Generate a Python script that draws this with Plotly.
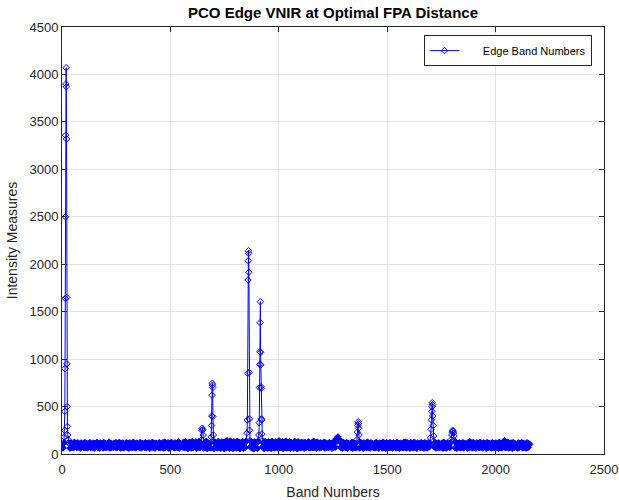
import plotly.graph_objects as go

# ---------------- data ----------------
BASE_START = 1      # first band of the baseline samples
BASE_STEP = 4       # spacing (bands) between baseline samples
base_vals = [
    100, 64, 118, 73, 109, 67, 121, 80, 104, 61, 115, 71, 98, 65, 124, 76, 111, 68, 119, 73,
    106, 62, 117, 79, 102, 66, 122, 70, 113, 63, 108, 77, 120, 67, 99, 72, 116, 61, 110, 75,
    123, 69, 103, 62, 118, 78, 107, 64, 121, 71, 112, 66, 101, 74, 125, 63, 114, 70, 105, 68,
    114, 72, 120, 65, 107, 76, 123, 62, 110, 70, 117, 64, 104, 79, 121, 67, 112, 61, 119, 74,
    103, 66, 125, 71, 109, 63, 116, 78, 100, 68, 122, 62, 113, 75, 106, 69, 120, 64, 111, 77,
    118, 61, 105, 73, 124, 67, 110, 62, 115, 80, 102, 70, 121, 65, 108, 72, 117, 63, 126, 69,
    107, 74, 119, 60, 112, 68, 123, 76, 104, 64, 118, 71, 109, 66, 127, 62, 113, 78, 101, 73,
    124, 65, 130, 70, 111, 58, 125, 77, 119, 63, 132, 68, 106, 74, 128, 60, 116, 72, 134, 66,
    112, 75, 129, 62, 118, 70, 135, 59, 121, 73, 110, 64, 131, 68, 117, 57, 126, 76, 108, 63,
    133, 69, 115, 61, 127, 74, 120, 56, 130, 67, 140, 72, 113, 60, 136, 71, 119, 58, 129, 75,
    109, 63, 134, 70, 122, 55, 117, 73, 131, 60, 114, 68, 138, 57, 125, 66, 111, 74, 132, 62,
    120, 54, 128, 71, 115, 59, 137, 65, 112, 52, 126, 73, 118, 56, 133, 69, 110, 61, 129, 67,
    123, 58, 135, 70, 114, 63, 127, 75, 119, 60, 139, 66, 108, 72, 131, 57, 124, 68, 136, 64,
    116, 71, 128, 59, 121, 74, 112, 62, 134, 67, 118, 55, 130, 70, 109, 65, 125, 73, 117, 61,
    122, 68, 113, 75, 128, 63, 108, 70, 120, 66, 135, 72, 111, 60, 126, 74, 115, 64, 119, 69,
    110, 73, 124, 62, 117, 70, 106, 65, 121, 76, 112, 61, 118, 68, 130, 72, 160, 135, 180, 145,
    150, 70, 118, 62, 125, 73, 109, 65, 121, 60, 114, 76, 106, 68, 123, 61, 117, 71, 112, 64,
    120, 69, 105, 63, 124, 75, 111, 60, 118, 72, 107, 66, 126, 70, 113, 62, 119, 74, 108, 67,
    110, 65, 122, 71, 104, 61, 117, 76, 109, 63, 125, 69, 114, 60, 120, 73, 107, 66, 121, 70,
    112, 62, 119, 75, 105, 64, 123, 68, 110, 61, 116, 72, 108, 66, 124, 70, 125, 63, 118, 74,
    106, 61, 121, 69, 111, 65, 125, 72, 104, 60, 117, 76, 109, 66, 120, 68, 114, 62, 120, 71,
    107, 64, 118, 73, 110, 60, 115, 68, 106, 74, 122, 63, 112, 70, 119, 65, 104, 72, 116, 61,
    123, 67, 109, 62, 117, 75, 105, 69, 121, 64, 113, 71, 102, 66, 124, 60, 111, 73, 118, 65,
    108, 70, 120, 63, 114, 76, 106, 61, 119, 68, 132, 72, 110, 64, 122, 69, 105, 62, 117, 74,
    112, 66, 124, 71, 103, 63, 118, 75, 109, 60, 121, 67, 114, 73, 106, 62, 120, 70, 111, 65,
    117, 72, 107, 61, 123, 68, 113, 64, 119, 74, 142, 66, 110, 70, 125, 63, 108, 71, 116, 60,
    121, 67, 111, 73, 104, 62, 118, 69, 109, 75, 120, 64, 113, 70, 106, 63, 119, 68, 110, 100,
]

spike1_bands = [10, 12, 13, 14, 15, 16, 17, 18, 19, 20, 21, 22, 23, 24, 25, 27, 29, 31, 33]
spike1_vals = [180, 250, 450, 900, 1640, 2500, 3360, 3900, 4070, 3870, 3320, 1650, 950, 500, 290, 200, 150, 120, 110]

spike2_bands = [643, 645, 647, 649, 651]
spike2_vals = [150, 250, 271, 255, 200]

spike3_bands = [688, 690, 691, 692, 693, 694, 695, 696, 698, 700]
spike3_vals = [180, 300, 400, 620, 745, 725, 700, 395, 200, 130]

spike4_bands = [853, 855, 857, 858, 859, 860, 861, 862, 863, 864, 865, 867]
spike4_vals = [220, 358, 850, 1834, 2037, 2142, 2115, 1915, 860, 370, 250, 140]

spike5_bands = [908, 910, 911, 912, 913, 914, 915, 916, 917, 918, 919, 920, 921, 922, 924]
spike5_vals = [200, 330, 700, 945, 1078, 1384, 1605, 1070, 940, 709, 693, 370, 358, 211, 140]

spike6_bands = [1360, 1362, 1364, 1366, 1367, 1368, 1370, 1372]
spike6_vals = [150, 230, 300, 340, 320, 270, 200, 130]

spike7_bands = [1700, 1702, 1704, 1706, 1707, 1708, 1709, 1710, 1712, 1714]
spike7_vals = [170, 260, 360, 450, 500, 541, 520, 400, 300, 190]

spike8_bands = [1795, 1798, 1800, 1802, 1804, 1806, 1808, 1811]
spike8_vals = [150, 200, 230, 250, 240, 220, 190, 140]

x_ticks = [0, 500, 1000, 1500, 2000, 2500]
y_ticks = [0, 500, 1000, 1500, 2000, 2500, 3000, 3500, 4000, 4500]

# ---------------- assemble series ----------------
spikes = [
    (spike1_bands, spike1_vals), (spike2_bands, spike2_vals),
    (spike3_bands, spike3_vals), (spike4_bands, spike4_vals),
    (spike5_bands, spike5_vals), (spike6_bands, spike6_vals),
    (spike7_bands, spike7_vals), (spike8_bands, spike8_vals),
]
points = []   # (band, value, is_dense_baseline)
for i, v in enumerate(base_vals):
    b = BASE_START + i * BASE_STEP
    if any(min(sb) <= b <= max(sb) for sb, _ in spikes):
        continue
    points.append((b, v, i > 0))
for sb, sv in spikes:
    points.extend((b, v, False) for b, v in zip(sb, sv))
points.sort(key=lambda p: p[0])
bands = [p[0] for p in points]
vals = [p[1] for p in points]
# the real record has ~2000 overlapping open diamonds along the baseline, which
# render as a solid strip; emulate that density with filled diamonds there
symbols = ["diamond" if p[2] else "diamond-open" for p in points]

FONT = "Arial, Liberation Sans, Helvetica, sans-serif"
AX = "#262626"
NB = "\u00a0"

fig = go.Figure()
fig.add_trace(go.Scatter(
    x=bands, y=vals, mode="lines+markers", name=NB * 6 + "Edge Band Numbers",
    line=dict(color="#0000ff", width=1),
    marker=dict(symbol=symbols, size=5, color="#0000ff", line=dict(width=1, color="#0000ff")),
))

axis_common = dict(
    showline=True, linecolor=AX, linewidth=1, mirror="ticks",
    ticks="inside", ticklen=5, tickcolor=AX, tickwidth=1,
    showgrid=True, gridcolor="#e3e3e3", gridwidth=1, zeroline=False,
    tickfont=dict(family=FONT, size=13, color=AX), automargin=False,
)
fig.update_layout(
    width=619, height=500,
    margin=dict(l=62, r=15, t=27, b=46),
    paper_bgcolor="white", plot_bgcolor="white",
    title=dict(text="<b>PCO Edge VNIR at Optimal FPA Distance</b>",
               font=dict(family=FONT, size=15, color="black"),
               x=333 / 619, xanchor="center", y=1 - 13 / 500, yanchor="middle", automargin=False),
    xaxis=dict(range=[0, 2500], tickvals=x_ticks, ticklabelstandoff=3,
               title=dict(text="Band Numbers", font=dict(family=FONT, size=14, color=AX), standoff=11),
               **axis_common),
    yaxis=dict(range=[0, 4500], tickvals=y_ticks,
               title=dict(text="Intensity Measures", font=dict(family=FONT, size=14, color=AX), standoff=8),
               **axis_common),
    showlegend=True,
    legend=dict(x=0.977, y=0.981, xanchor="right", yanchor="top",
                bgcolor="white", bordercolor=AX, borderwidth=1,
                font=dict(family=FONT, size=11, color="black")),
)

fig.write_html("out.html", config={"displayModeBar": False},
               post_script="document.body.style.margin='0';document.body.style.overflow='hidden';")
